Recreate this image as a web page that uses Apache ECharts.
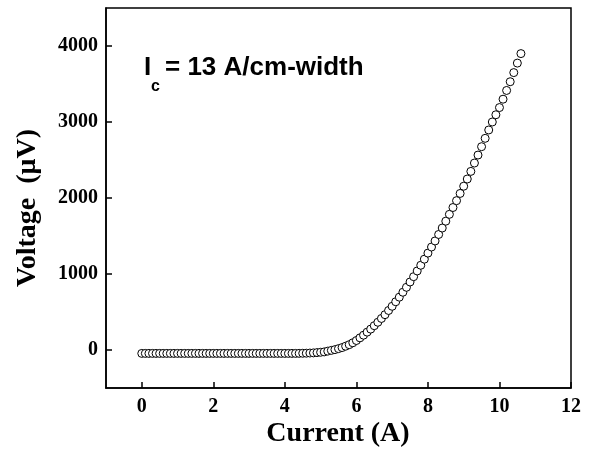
<!DOCTYPE html>
<html>
<head>
<meta charset="utf-8">
<script src="https://cdn.jsdelivr.net/npm/echarts@6/dist/echarts.min.js"></script>
<style>html,body{margin:0;padding:0;background:#fff}#c{width:593px;height:459px}</style>
</head>
<body>
<div id="c"></div>
<script>
// Current (A)
const current = [
  0.0,0.1,0.2,0.3,0.4,0.5,0.6,0.7,0.8,0.9,
  1.0,1.1,1.2,1.3,1.4,1.5,1.6,1.7,1.8,1.9,
  2.0,2.1,2.2,2.3,2.4,2.5,2.6,2.7,2.8,2.9,
  3.0,3.1,3.2,3.3,3.4,3.5,3.6,3.7,3.8,3.9,
  4.0,4.1,4.2,4.3,4.4,4.5,4.6,4.7,4.8,4.9,
  5.0,5.1,5.2,5.3,5.4,5.5,5.6,5.7,5.8,5.9,
  6.0,6.1,6.2,6.3,6.4,6.5,6.6,6.7,6.8,6.9,
  7.0,7.1,7.2,7.3,7.4,7.5,7.6,7.7,7.8,7.9,
  8.0,8.1,8.2,8.3,8.4,8.5,8.6,8.7,8.8,8.9,
  9.0,9.1,9.2,9.3,9.4,9.5,9.6,9.7,9.8,9.9,
  10.0,10.1,10.2,10.3,10.4,10.5,10.6
];
// Voltage (µV)
const voltage = [
  -45,-45,-45,-45,-45,-45,-45,-45,-45,-45,
  -45,-45,-45,-45,-45,-45,-45,-45,-45,-45,
  -45,-45,-45,-45,-45,-45,-45,-45,-45,-45,
  -45,-45,-45,-45,-45,-45,-45,-45,-45,-45,
  -45,-45,-45,-45,-44,-43,-42,-40,-38,-34,
  -30,-25,-15,-5,5,18,32,50,70,95,
  125,160,195,235,275,320,365,415,465,520,
  575,635,695,760,825,895,965,1040,1115,1195,
  1275,1355,1435,1520,1605,1695,1785,1875,1965,2060,
  2155,2250,2350,2460,2565,2675,2785,2895,3000,3095,
  3190,3300,3415,3530,3650,3775,3900
];
const xTicks = [0,2,4,6,8,10,12];
const yTicks = [0,1000,2000,3000,4000];
const xTitle = 'Current (A)';
const yTitle = 'Voltage  (\u03bcV)';

const data = current.map((c,i)=>[c, voltage[i]]);
const serif = '"Liberation Serif","Times New Roman",serif';
const sans = '"Liberation Sans",Arial,sans-serif';

const chart = echarts.init(document.getElementById('c'));
chart.setOption({
  animation:false,
  backgroundColor:'#fff',
  grid:{left:106,right:22,top:8,bottom:71,show:true,borderColor:'#000',borderWidth:1.5,backgroundColor:'transparent'},
  xAxis:{
    type:'value',min:-1,max:12,
    axisLine:{onZero:false,lineStyle:{color:'#000',width:1.5}},
    axisTick:{inside:true,length:6,lineStyle:{color:'#000',width:1.5},customValues:xTicks},
    axisLabel:{customValues:xTicks,formatter:v=>String(v),fontFamily:serif,fontWeight:'bold',fontSize:20,color:'#000',margin:9},
    splitLine:{show:false}
  },
  yAxis:{
    type:'value',min:-500,max:4500,
    axisLine:{onZero:false,lineStyle:{color:'#000',width:1.5}},
    axisTick:{inside:true,length:6,lineStyle:{color:'#000',width:1.5},customValues:yTicks},
    axisLabel:{customValues:yTicks,formatter:v=>String(v),fontFamily:serif,fontWeight:'bold',fontSize:20,color:'#000',margin:8},
    splitLine:{show:false}
  },
  graphic:[
    {type:'text',x:338,y:434,style:{text:xTitle,font:'bold 28px '+serif,fill:'#000',align:'center',verticalAlign:'middle'}},
    {type:'text',x:28,y:208,rotation:Math.PI/2,style:{text:yTitle,font:'bold 28px '+serif,fill:'#000',align:'center',verticalAlign:'middle'}},
    {type:'text',left:144,top:55,style:{text:'I',font:'bold 26px '+sans,fill:'#000'}},
    {type:'text',left:151,top:79,style:{text:'c',font:'bold 16px '+sans,fill:'#000'}},
    {type:'text',left:165,top:55,style:{text:'= 13 A/cm-width',font:'bold 26px '+sans,fill:'#000'}}
  ],
  series:[{
    type:'scatter',data:data,symbol:'circle',symbolSize:8,
    itemStyle:{color:'#fff',borderColor:'#000',borderWidth:1,opacity:1}
  }]
});
</script>
</body>
</html>
